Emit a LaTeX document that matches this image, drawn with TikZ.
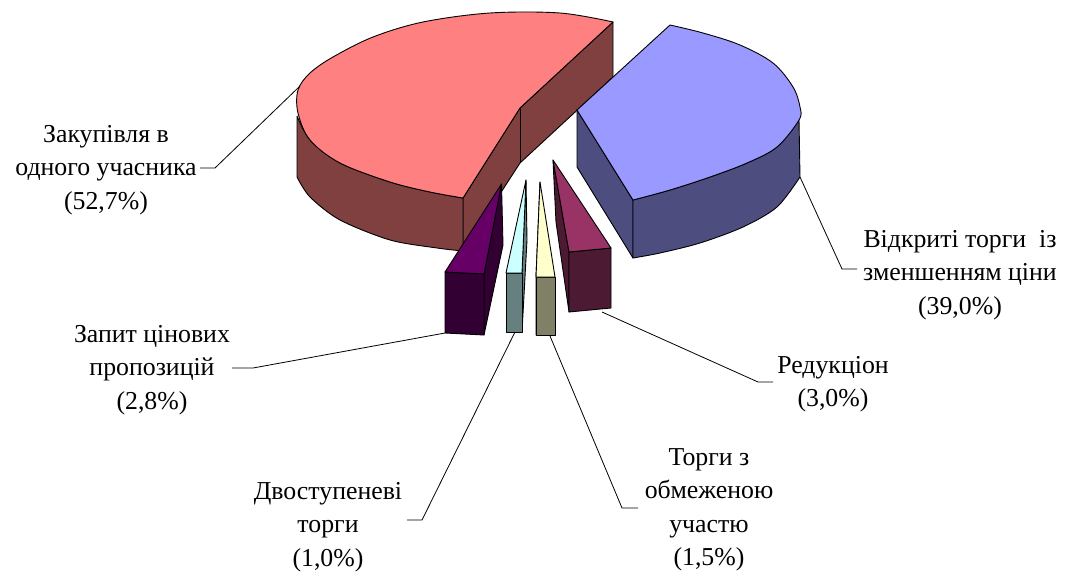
\documentclass[tikz,border=0pt]{standalone}
\usepackage{fontspec}
\setmainfont{Liberation Serif}
\definecolor{redtop}{HTML}{FF8080}
\definecolor{redside}{HTML}{804040}
\definecolor{bluetop}{HTML}{9999FF}
\definecolor{blueside}{HTML}{4D4D80}
\definecolor{purtop}{HTML}{660066}
\definecolor{purside}{HTML}{330033}
\definecolor{cyantop}{HTML}{CCFFFF}
\definecolor{cyanside}{HTML}{668080}
\definecolor{yeltop}{HTML}{FFFFCC}
\definecolor{yelside}{HTML}{808066}
\definecolor{magtop}{HTML}{993366}
\definecolor{magside}{HTML}{4D1A33}
\tikzset{
  face/.style={draw=black, line width=0.9pt, line join=round},
  leader/.style={draw=black, line width=0.8pt},
  lbl/.style={align=center, inner sep=0pt, font=\fontsize{25.8}{33.5}\selectfont},
}
\begin{document}
\begin{tikzpicture}[x=1pt,y=-1pt]
\useasboundingbox (0,0) rectangle (1067,573);
\fill[white] (0,0) rectangle (1067,573);

% ---- big red slice ----
\filldraw[face, fill=redside] (613,22) -- (520,108) -- (463,198) -- (463,251) -- (520,163) -- (613,77) -- cycle;
\draw[face] (520,108) -- (520,163);
\filldraw[face, fill=redside] plot[smooth] coordinates {(297,177)(310,197)(340,220)(390,240)(437,248)(463,251)} -- (463,198)
  -- plot[smooth] coordinates {(463,198)(430,192)(390,182)(340,163)(310,140)(297,116)} -- cycle;
\filldraw[face, fill=redtop] plot[smooth, tension=0.55] coordinates {(613,22)(560,13)(490,13)(423,22)(373,37)(333,57)(310,73)(298,90)(298,113)(310,140)(340,163)(390,182)(430,192)(463,198)} -- (520,108) -- cycle;

% ---- blue slice ----
\filldraw[face, fill=blueside] (577,110) -- (633,200) -- (633,258) -- (577,167) -- cycle;
\filldraw[face, fill=blueside] plot[smooth] coordinates {(800,177)(777,207)(743,227)(700,243)(660,253)(633,258)} -- (633,200)
  -- plot[smooth] coordinates {(633,200)(670,190)(710,177)(747,163)(777,147)(799,120)} -- cycle;
\filldraw[face, fill=bluetop] plot[smooth, tension=0.55] coordinates {(670,25)(703,33)(740,45)(773,63)(793,87)(800,107)(799,120)(777,147)(747,163)(710,177)(670,190)(633,200)} -- (577,110) -- cycle;

% ---- purple slice ----
\filldraw[face, fill=purside] (501.5,184) -- (484,274) -- (484,335) -- (503,245) -- cycle;
\filldraw[face, fill=purside] (445,272) -- (484,274) -- (484,335) -- (445,333) -- cycle;
\filldraw[face, fill=purtop] (501.5,184) -- (445,272) -- (484,274) -- cycle;

% ---- cyan slice ----
\filldraw[face, fill=cyanside] (526,180) -- (522,273) -- (522,332) -- (527,240) -- cycle;
\filldraw[face, fill=cyanside] (506,273) -- (522,273) -- (522,332) -- (506,332) -- cycle;
\filldraw[face, fill=cyantop] (526,180) -- (506,273) -- (522,273) -- cycle;

% ---- yellow slice ----
\filldraw[face, fill=yelside] (540,182) -- (536,277) -- (536,335) -- (539,242) -- cycle;
\filldraw[face, fill=yelside] (536,277) -- (555,277) -- (555,335) -- (536,335) -- cycle;
\filldraw[face, fill=yeltop] (540,182) -- (536,277) -- (555,277) -- cycle;

% ---- magenta slice ----
\filldraw[face, fill=magside] (553,160) -- (569,252) -- (569,312) -- (556,222) -- cycle;
\filldraw[face, fill=magside] (569,252) -- (611,248) -- (611,308) -- (569,312) -- cycle;
\filldraw[face, fill=magtop] (553,160) -- (569,252) -- (611,248) -- cycle;

% ---- labels ----
\node[lbl] (tZak) at (106,170) {Закупівля в\\одного учасника\\(52,7\%)};
\node[lbl] (tVid) at (960,275) {Відкриті торги\ \ із\\зменшенням ціни\\(39,0\%)};
\node[lbl] (tRed) at (833,384) {Редукціон\\(3,0\%)};
\node[lbl] (tObm) at (709,510) {Торги з\\обмеженою\\участю\\(1,5\%)};
\node[lbl] (tDvo) at (328,527) {Двоступеневі\\торги\\(1,0\%)};
\node[lbl] (tZap) at (152,370) {Запит цінових\\пропозицій\\(2,8\%)};

% ---- leader coordinates ----
\coordinate (zA) at (300,86);  \coordinate (zB) at (215,168); \coordinate (zC) at (200,168);
\coordinate (vA) at (800,177); \coordinate (vB) at (842,269); \coordinate (vC) at (857,269);
\coordinate (rA) at (602,312); \coordinate (rB) at (758,382); \coordinate (rC) at (773,382);
\coordinate (oA) at (550,336); \coordinate (oB) at (622,508); \coordinate (oC) at (638,508);
\coordinate (dA) at (515,332); \coordinate (dB) at (422,520); \coordinate (dC) at (407,520);
\coordinate (pA) at (445,333); \coordinate (pB) at (253,368); \coordinate (pC) at (232,368);

\draw[leader] (zA) -- (zB) -- (zC);
\draw[leader] (vA) -- (vB) -- (vC);
\draw[leader] (rA) -- (rB) -- (rC);
\draw[leader] (oA) -- (oB) -- (oC);
\draw[leader] (dA) -- (dB) -- (dC);
\draw[leader] (pA) -- (pB) -- (pC);
\end{tikzpicture}
\end{document}
